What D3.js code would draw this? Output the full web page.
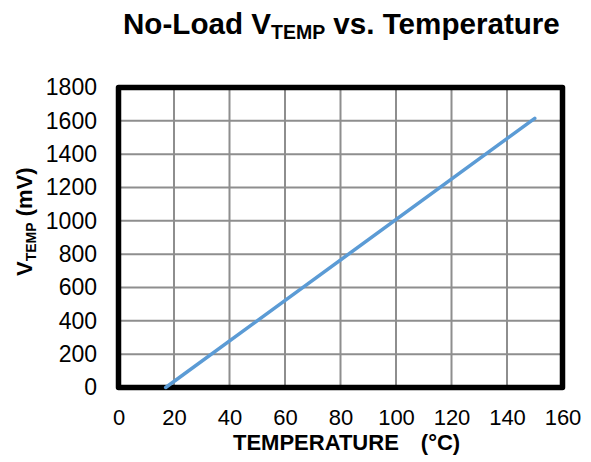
<!DOCTYPE html>
<html lang="en">
<head>
  <meta charset="utf-8">
  <script src="https://d3js.org/d3.v7.min.js"></script>
  <style>
    body {
      margin: 0;
      background: #fff;
      font-family: "Liberation Sans", Arial, Helvetica, sans-serif;
    }
    .grid line {
      stroke: #8e8e8e;
      stroke-width: 2;
    }
    .axis text {
      font-size: 22px;
      fill: #000;
    }
    .y.axis text {
      font-size: 23px;
    }
    .title, .axis-label {
      font-weight: bold;
      fill: #000;
    }
  </style>
</head>
<body>
  <svg id="chart"></svg>
  <script>
    // values
    var tempC = [17, 150];
    var vtempMV = [0, 1615];
    var xTicks = [0, 20, 40, 60, 80, 100, 120, 140, 160];
    var yTicks = [0, 200, 400, 600, 800, 1000, 1200, 1400, 1600, 1800];

    var width = 591,
        height = 462;

    var svg = d3.select("#chart")
      .attr("width", width)
      .attr("height", height);

    var x = d3.scaleLinear().domain([0, 160]).range([118.5, 562.5]);
    var y = d3.scaleLinear().domain([0, 1800]).range([387.5, 87.5]);

    // gridlines
    var grid = svg.append("g").attr("class", "grid");
    grid.selectAll("line.v")
      .data(xTicks)
      .enter().append("line")
        .attr("class", "v")
        .attr("x1", function(d) { return x(d); })
        .attr("x2", function(d) { return x(d); })
        .attr("y1", y(0))
        .attr("y2", y(1800));
    grid.selectAll("line.h")
      .data(yTicks)
      .enter().append("line")
        .attr("class", "h")
        .attr("x1", x(0))
        .attr("x2", x(160))
        .attr("y1", function(d) { return y(d); })
        .attr("y2", function(d) { return y(d); });

    // plot frame
    svg.append("rect")
      .attr("x", x(0))
      .attr("y", y(1800))
      .attr("width", x(160) - x(0))
      .attr("height", y(0) - y(1800))
      .attr("fill", "none")
      .attr("stroke", "#000")
      .attr("stroke-width", 5.5)
      .attr("stroke-linejoin", "round");

    // data line
    var pts = tempC.map(function(t, i) { return [t, vtempMV[i]]; });
    svg.append("path")
      .datum(pts)
      .attr("fill", "none")
      .attr("stroke", "#5b9bd5")
      .attr("stroke-width", 3.5)
      .attr("stroke-linecap", "round")
      .attr("d", d3.line()
        .x(function(d) { return x(d[0]); })
        .y(function(d) { return y(d[1]); }));

    // axes (labels only)
    svg.append("g")
      .attr("class", "x axis")
      .attr("transform", "translate(0," + y(0) + ")")
      .call(d3.axisBottom(x).tickValues(xTicks).tickFormat(d3.format("d"))
        .tickSize(0).tickPadding(21.5));
    svg.append("g")
      .attr("class", "y axis")
      .attr("transform", "translate(" + x(0) + ",0)")
      .call(d3.axisLeft(y).tickValues(yTicks).tickFormat(d3.format("d"))
        .tickSize(0).tickPadding(21.5));
    svg.selectAll(".axis .domain").remove();
    svg.selectAll(".axis text")
      .attr("font-family", null)
      .attr("font-size", null);

    // title
    var title = svg.append("text")
      .attr("class", "title")
      .attr("x", 123)
      .attr("y", 34)
      .style("font-size", "29.6px");
    title.append("tspan").text("No-Load V");
    title.append("tspan").attr("dy", 5).style("font-size", "19.5px").text("TEMP");
    title.append("tspan").attr("dy", -5).text(" vs. Temperature");

    // x axis label
    var xl = svg.append("text")
      .attr("class", "axis-label")
      .attr("x", 233)
      .attr("y", 450)
      .style("font-size", "22px");
    xl.append("tspan").text("TEMPERATURE");
    xl.append("tspan").attr("dx", 22).text("(°C)");

    // y axis label
    var yl = svg.append("text")
      .attr("class", "axis-label")
      .attr("transform", "translate(32,276) rotate(-90)")
      .style("font-size", "22px");
    yl.append("tspan").text("V");
    yl.append("tspan").attr("dy", 4).style("font-size", "14px").text("TEMP");
    yl.append("tspan").attr("dy", -4).text(" (mV)");
  </script>
</body>
</html>
